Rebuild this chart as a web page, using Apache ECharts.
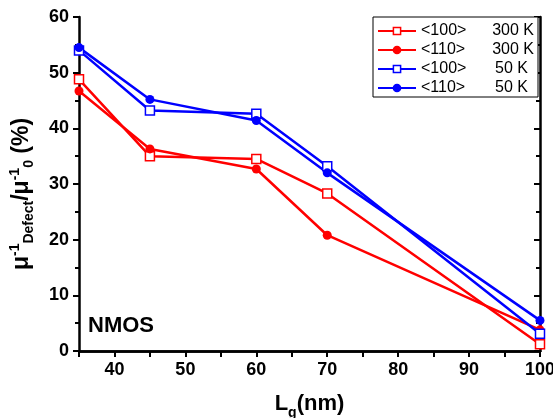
<!DOCTYPE html>
<html><head><meta charset="utf-8">
<script src="https://cdn.jsdelivr.net/npm/echarts@6/dist/echarts.min.js"></script>
<style>html,body{margin:0;padding:0;background:#fff}#c{width:553px;height:418px}</style>
</head><body><div id="c"></div>
<script>
var lengths = [35, 45, 60, 70, 100];
var r100_300K = [48.8, 35.0, 34.5, 28.3, 1.2];
var r110_300K = [46.7, 36.3, 32.7, 20.8, 3.8];
var b100_50K = [54.0, 43.2, 42.6, 33.2, 3.1];
var b110_50K = [54.5, 45.2, 41.4, 32.0, 5.5];
var seriesNames = ['<100>  300 K', '<110>  300 K', '<100>  50 K', '<110>  50 K'];
var xTicks = [40, 50, 60, 70, 80, 90, 100];

function pairs(v){ return lengths.map(function(x,i){ return [x, v[i]]; }); }
var F = 'Liberation Sans, Arial, sans-serif';
var chart = echarts.init(document.getElementById('c'));
function mk(name, data, color, sym){
  return {
    name: name, type: 'line', data: pairs(data), xAxisIndex: 0, yAxisIndex: 0,
    symbol: sym, symbolSize: 9, clip: false,
    lineStyle: {color: color, width: 2.5},
    itemStyle: {color: sym === 'rect' ? '#fff' : color, borderColor: color, borderWidth: sym === 'rect' ? 1.5 : 0},
    emphasis: {disabled: true}, z: 3
  };
}
var axisLine = {show: true, lineStyle: {color: '#000', width: 2.5}};
chart.setOption({
  animation: false,
  grid: {left: 79, right: 13, top: 17, bottom: 67, containLabel: false, outerBoundsMode: 'none'},
  legend: {
    left: 373, top: 17, orient: 'vertical', itemWidth: 38, itemHeight: 9, itemGap: 3,
    padding: [6, 4, 1, 4], borderColor: '#000', borderWidth: 1, borderRadius: 0, backgroundColor: '#fff',
    data: seriesNames,
    formatter: function(n){
      var p = n.split('  ');
      return '{a|' + p[0] + '}' + (p[1] === '50 K' ? '{c|' + p[1] + '}' : '{b|' + p[1] + '}');
    },
    textStyle: {
      fontFamily: F, fontSize: 16, color: '#000',
      rich: {
        a: {fontFamily: F, fontSize: 16, width: 66, color: '#000'},
        b: {fontFamily: F, fontSize: 16, width: 47, align: 'right', color: '#000'},
        c: {fontFamily: F, fontSize: 16, width: 41, align: 'right', color: '#000', padding: [0, 6, 0, 0]}
      }
    },
    itemStyle: {borderWidth: 1.5}
  },
  xAxis: [{
    type: 'value', min: 35, max: 100, interval: 5, position: 'bottom',
    axisLine: axisLine,
    axisTick: {show: true, length: 6, inside: false, lineStyle: {color: '#000', width: 2}},
    splitLine: {show: false},
    axisLabel: {fontFamily: F, fontWeight: 'bold', fontSize: 18, color: '#000', margin: 10,
      formatter: function(v){ return xTicks.indexOf(v) >= 0 ? String(v) : ''; }},
    name: '{L|L}{g|g}{L|(nm)}', nameLocation: 'middle', nameGap: 41,
    nameTextStyle: {rich: {
      L: {fontFamily: F, fontWeight: 'bold', fontSize: 22, color: '#000', lineHeight: 24},
      g: {fontFamily: F, fontWeight: 'bold', fontSize: 14, color: '#000', lineHeight: 24, verticalAlign: 'bottom', padding: [0,0,-4,0]}
    }}
  }, {
    type: 'value', min: 35, max: 100, interval: 5, position: 'top',
    axisLine: axisLine,
    axisTick: {show: true, length: 6, inside: true, lineStyle: {color: '#000', width: 2}},
    splitLine: {show: false}, axisLabel: {show: false}
  }],
  yAxis: [{
    type: 'value', min: 0, max: 60, interval: 10, position: 'left',
    axisLine: axisLine,
    axisTick: {show: true, length: 6, inside: false, lineStyle: {color: '#000', width: 2}},
    minorTick: {show: true, splitNumber: 2, length: 4, lineStyle: {color: '#000', width: 2}},
    splitLine: {show: false},
    axisLabel: {fontFamily: F, fontWeight: 'bold', fontSize: 18, color: '#000', margin: 10},
    name: '{m|\u03bc}{s|-1}{d|Defect}{m|/\u03bc}{s|-1}{d|0}{m| (%)}', nameLocation: 'middle', nameRotate: 90, nameGap: 43,
    nameTextStyle: {padding: [0, 20, 0, 0], rich: {
      m: {fontFamily: F, fontWeight: 'bold', fontSize: 23, color: '#000', lineHeight: 28},
      s: {fontFamily: F, fontWeight: 'bold', fontSize: 14, color: '#000', lineHeight: 28, verticalAlign: 'top'},
      d: {fontFamily: F, fontWeight: 'bold', fontSize: 14, color: '#000', lineHeight: 28, verticalAlign: 'bottom'}
    }}
  }, {
    type: 'value', min: 0, max: 60, interval: 10, position: 'right',
    axisLine: axisLine,
    axisTick: {show: true, length: 6, inside: true, lineStyle: {color: '#000', width: 2}},
    minorTick: {show: true, splitNumber: 2, length: 4, lineStyle: {color: '#000', width: 2}},
    splitLine: {show: false}, axisLabel: {show: false}
  }],
  graphic: [{
    type: 'text', left: 88, top: 315,
    style: {text: 'NMOS', fontFamily: F, fontWeight: 'bold', fontSize: 22, fill: '#000'}
  }],
  series: [
    mk(seriesNames[0], r100_300K, '#ff0000', 'rect'),
    mk(seriesNames[1], r110_300K, '#ff0000', 'circle'),
    mk(seriesNames[2], b100_50K, '#0000ff', 'rect'),
    mk(seriesNames[3], b110_50K, '#0000ff', 'circle')
  ]
});
</script></body></html>
